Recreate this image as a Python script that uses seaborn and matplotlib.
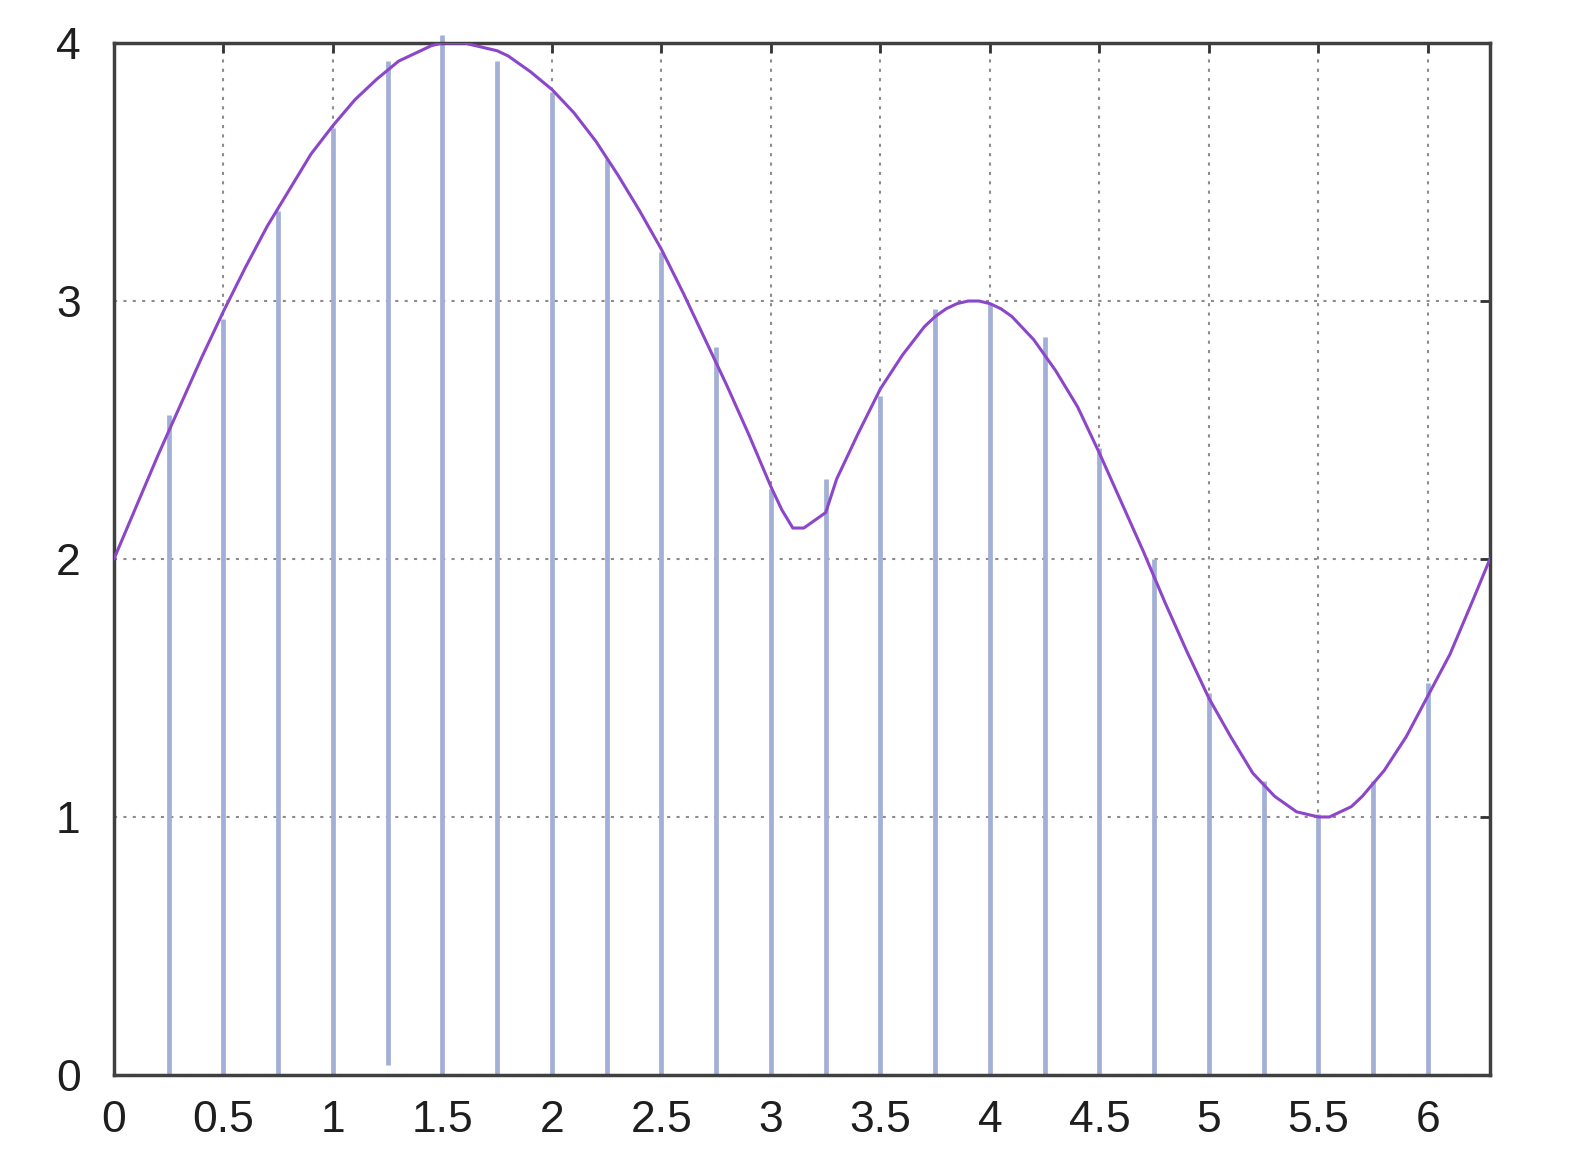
import numpy as np
import pandas as pd
import matplotlib
matplotlib.use('Agg')
import matplotlib.pyplot as plt
import seaborn as sns

# smooth curve
curve_x = [0.0, 0.1, 0.2, 0.3, 0.4, 0.5, 0.6, 0.7, 0.8, 0.9,
           1.0, 1.1, 1.2, 1.3, 1.35, 1.4, 1.45, 1.5, 1.55, 1.6, 1.65, 1.7, 1.75, 1.8, 1.9,
           2.0, 2.1, 2.2, 2.3, 2.4, 2.5, 2.6, 2.7, 2.8, 2.9,
           3.0, 3.05, 3.1, 3.15, 3.2, 3.25, 3.3, 3.4, 3.5, 3.6, 3.7, 3.75, 3.8, 3.85, 3.9, 3.95,
           4.0, 4.05, 4.1, 4.2, 4.3, 4.4, 4.5, 4.6, 4.7, 4.8, 4.9,
           5.0, 5.1, 5.2, 5.3, 5.35, 5.4, 5.45, 5.5, 5.55, 5.6, 5.65, 5.7, 5.8, 5.9,
           6.0, 6.1, 6.2, 6.283]
curve_y = [2.00, 2.20, 2.40, 2.59, 2.78, 2.96, 3.13, 3.29, 3.43, 3.57,
           3.68, 3.78, 3.86, 3.93, 3.95, 3.97, 3.99, 4.00, 4.00, 4.00, 3.99, 3.98, 3.97, 3.95, 3.89,
           3.82, 3.73, 3.62, 3.49, 3.35, 3.20, 3.03, 2.85, 2.67, 2.48,
           2.28, 2.19, 2.12, 2.12, 2.15, 2.18, 2.31, 2.49, 2.66, 2.79, 2.90, 2.94, 2.97, 2.99, 3.00, 3.00,
           2.99, 2.97, 2.94, 2.85, 2.73, 2.59, 2.41, 2.22, 2.03, 1.83, 1.64,
           1.46, 1.31, 1.17, 1.08, 1.05, 1.02, 1.01, 1.00, 1.00, 1.02, 1.04, 1.08, 1.18, 1.31,
           1.47, 1.63, 1.83, 2.00]

# sampled values (stems)
stem_x = [0.25, 0.5, 0.75, 1.0, 1.25, 1.5, 1.75, 2.0, 2.25, 2.5, 2.75, 3.0,
          3.25, 3.5, 3.75, 4.0, 4.25, 4.5, 4.75, 5.0, 5.25, 5.5, 5.75, 6.0]
stem_top = [2.56, 2.93, 3.35, 3.67, 3.93, 4.03, 3.93, 3.81, 3.55, 3.19, 2.82, 2.27,
            2.31, 2.63, 2.97, 2.99, 2.86, 2.43, 2.00, 1.48, 1.14, 1.01, 1.14, 1.52]
stem_base = [0, 0, 0, 0, 0.04, 0, 0, 0, 0, 0, 0, 0,
             0, 0, 0, 0, 0, 0, 0, 0, 0, 0, 0, 0]

xticks = [0, 0.5, 1, 1.5, 2, 2.5, 3, 3.5, 4, 4.5, 5, 5.5, 6]
xticklabels = ['0', '0.5', '1', '1.5', '2', '2.5', '3', '3.5', '4', '4.5', '5', '5.5', '6']
yticks = [0, 1, 2, 3, 4]

sns.set_style('white')
plt.rcParams['font.family'] = ['Liberation Sans Narrow', 'Liberation Sans', 'DejaVu Sans']

fig = plt.figure(figsize=(15.76, 11.54), dpi=100)
ax = fig.add_axes([0.0723, 0.0685, 0.9454 - 0.0723, 0.9627 - 0.0685])

ax.vlines(stem_x, stem_base, stem_top, color='#a3afd6', linewidth=3.4, zorder=2, clip_on=False)

df = pd.DataFrame({'x': curve_x, 'y': curve_y})
sns.lineplot(data=df, x='x', y='y', ax=ax, color='#8c46c9', linewidth=2.2, zorder=3, sort=False)

ax.set_xlim(0, 6.283)
ax.set_ylim(0, 4)
ax.set_xticks(xticks)
ax.set_xticklabels(xticklabels)
ax.set_yticks(yticks)
ax.set_xlabel('')
ax.set_ylabel('')

ax.grid(True, color='#8c8c8c', linestyle=(0, (1.5, 3)), linewidth=1.5, zorder=1)
ax.set_axisbelow(True)

for s in ax.spines.values():
    s.set_color('#404040')
    s.set_linewidth(2.5)
    s.set_visible(True)

ax.tick_params(axis='both', direction='in', length=7, width=2, color='#333333',
               top=True, right=True, labelsize=32, labelcolor='#1e1e1e')
ax.tick_params(axis='x', pad=18)
ax.tick_params(axis='y', pad=24)

plt.savefig('out.png', dpi=100)
